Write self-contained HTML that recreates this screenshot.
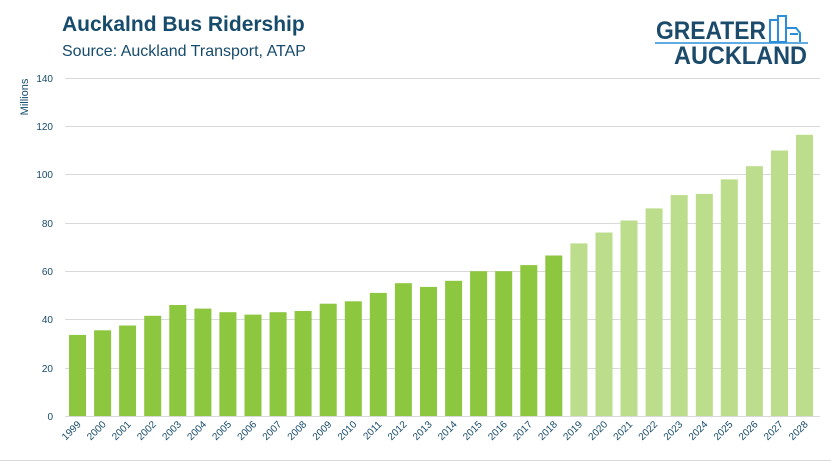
<!DOCTYPE html>
<html><head><meta charset="utf-8"><style>
body{margin:0;background:#fff;width:831px;height:462px;overflow:hidden;font-family:"Liberation Sans",sans-serif}
</style></head><body>
<svg width="831" height="462" xmlns="http://www.w3.org/2000/svg" font-family="Liberation Sans, sans-serif">
<text x="62" y="31" font-size="21" font-weight="bold" fill="#164b6b">Auckalnd Bus Ridership</text>
<text x="62" y="56" font-size="16" fill="#164b6b">Source: Auckland Transport, ATAP</text>
<text x="656" y="39" font-size="25" font-weight="bold" fill="#1b4a6b" textLength="110" lengthAdjust="spacingAndGlyphs">GREATER</text>
<line x1="655" y1="43" x2="808" y2="43" stroke="#2a8fd8" stroke-width="1.5"/>
<text x="674" y="64" font-size="25" font-weight="bold" fill="#1b4a6b" textLength="133" lengthAdjust="spacingAndGlyphs">AUCKLAND</text>
<g fill="none" stroke="#2a8fd8" stroke-width="2">
<rect x="770" y="20" width="8" height="22"/><rect x="778" y="16" width="8" height="26"/><path d="M786 28 L796 28 L800 33 L800 42"/><path d="M790 34 L798 34"/>
</g>
<g stroke="#d9d9d9" stroke-width="1">
<line x1="65" y1="78.5" x2="820" y2="78.5"/><line x1="65" y1="126.5" x2="820" y2="126.5"/>
<line x1="65" y1="174.5" x2="820" y2="174.5"/><line x1="65" y1="223.5" x2="820" y2="223.5"/>
<line x1="65" y1="271.5" x2="820" y2="271.5"/><line x1="65" y1="319.5" x2="820" y2="319.5"/>
<line x1="65" y1="368.5" x2="820" y2="368.5"/><line x1="65" y1="416.5" x2="820" y2="416.5"/>
<line x1="0" y1="460.5" x2="831" y2="460.5"/>
</g>
<g font-size="10" fill="#164b6b" text-anchor="end">
<text x="53" y="82">140</text><text x="53" y="130">120</text><text x="53" y="178">100</text>
<text x="53" y="227">80</text><text x="53" y="275">60</text><text x="53" y="323">40</text>
<text x="53" y="372">20</text><text x="53" y="420">0</text>
</g>
<text transform="translate(28,97) rotate(-90)" text-anchor="middle" font-size="11" fill="#164b6b">Millions</text>
<g fill="#8dc63f">
<rect x="69" y="334.9" width="17" height="81.1"/>
<rect x="94.1" y="330.3" width="17" height="85.7"/>
<rect x="119.1" y="325.5" width="17" height="90.5"/>
<rect x="144.2" y="315.8" width="17" height="100.2"/>
<rect x="169.3" y="305" width="17" height="111"/>
<rect x="194.4" y="308.6" width="17" height="107.4"/>
<rect x="219.4" y="312.2" width="17" height="103.8"/>
<rect x="244.5" y="314.6" width="17" height="101.4"/>
<rect x="269.6" y="312.2" width="17" height="103.8"/>
<rect x="294.6" y="311" width="17" height="105"/>
<rect x="319.7" y="303.7" width="17" height="112.3"/>
<rect x="344.8" y="301.3" width="17" height="114.7"/>
<rect x="369.8" y="292.9" width="17" height="123.1"/>
<rect x="394.9" y="283.2" width="17" height="132.8"/>
<rect x="420" y="286.9" width="17" height="129.1"/>
<rect x="445.1" y="280.8" width="17" height="135.2"/>
<rect x="470.1" y="271.2" width="17" height="144.8"/>
<rect x="495.2" y="271.2" width="17" height="144.8"/>
<rect x="520.3" y="265.1" width="17" height="150.9"/>
<rect x="545.3" y="255.5" width="17" height="160.5"/>
</g>
<g fill="#bcdd8c">
<rect x="570.4" y="243.4" width="17" height="172.6"/>
<rect x="595.5" y="232.5" width="17" height="183.5"/>
<rect x="620.5" y="220.5" width="17" height="195.5"/>
<rect x="645.6" y="208.4" width="17" height="207.6"/>
<rect x="670.7" y="195.1" width="17" height="220.9"/>
<rect x="695.8" y="193.9" width="17" height="222.1"/>
<rect x="720.8" y="179.4" width="17" height="236.6"/>
<rect x="745.9" y="166.2" width="17" height="249.8"/>
<rect x="771" y="150.5" width="17" height="265.5"/>
<rect x="796" y="134.8" width="17" height="281.2"/>
</g>
<g font-size="10" fill="#164b6b" text-anchor="end">
<text transform="translate(81.5,425) rotate(-45)">1999</text>
<text transform="translate(106.6,425) rotate(-45)">2000</text>
<text transform="translate(131.6,425) rotate(-45)">2001</text>
<text transform="translate(156.7,425) rotate(-45)">2002</text>
<text transform="translate(181.8,425) rotate(-45)">2003</text>
<text transform="translate(206.9,425) rotate(-45)">2004</text>
<text transform="translate(231.9,425) rotate(-45)">2005</text>
<text transform="translate(257,425) rotate(-45)">2006</text>
<text transform="translate(282.1,425) rotate(-45)">2007</text>
<text transform="translate(307.1,425) rotate(-45)">2008</text>
<text transform="translate(332.2,425) rotate(-45)">2009</text>
<text transform="translate(357.3,425) rotate(-45)">2010</text>
<text transform="translate(382.3,425) rotate(-45)">2011</text>
<text transform="translate(407.4,425) rotate(-45)">2012</text>
<text transform="translate(432.5,425) rotate(-45)">2013</text>
<text transform="translate(457.6,425) rotate(-45)">2014</text>
<text transform="translate(482.6,425) rotate(-45)">2015</text>
<text transform="translate(507.7,425) rotate(-45)">2016</text>
<text transform="translate(532.8,425) rotate(-45)">2017</text>
<text transform="translate(557.8,425) rotate(-45)">2018</text>
<text transform="translate(582.9,425) rotate(-45)">2019</text>
<text transform="translate(608,425) rotate(-45)">2020</text>
<text transform="translate(633,425) rotate(-45)">2021</text>
<text transform="translate(658.1,425) rotate(-45)">2022</text>
<text transform="translate(683.2,425) rotate(-45)">2023</text>
<text transform="translate(708.3,425) rotate(-45)">2024</text>
<text transform="translate(733.3,425) rotate(-45)">2025</text>
<text transform="translate(758.4,425) rotate(-45)">2026</text>
<text transform="translate(783.5,425) rotate(-45)">2027</text>
<text transform="translate(808.5,425) rotate(-45)">2028</text>
</g>
</svg>
</body></html>
